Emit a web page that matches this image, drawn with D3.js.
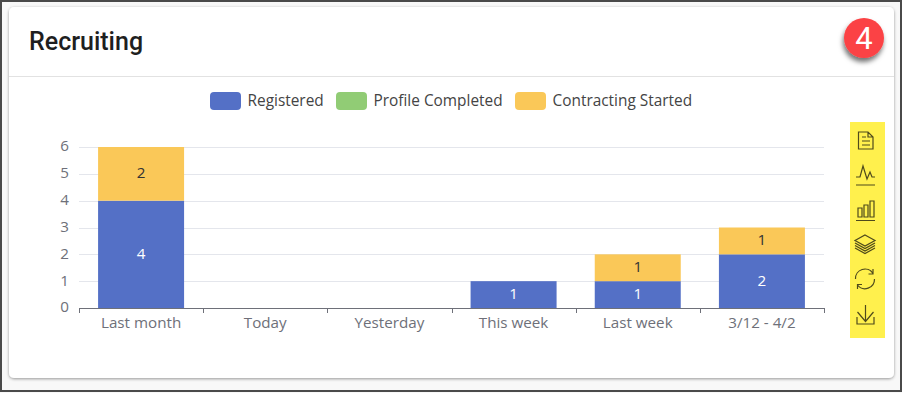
<!DOCTYPE html>
<html><head><meta charset="utf-8">
<style>html,body{margin:0;padding:0;background:#fff}svg{display:block}</style>
<script src="https://cdn.jsdelivr.net/npm/d3@7"></script></head><body>
<svg id="c" width="902" height="393"></svg>
<script>
const categories=["Last month","Today","Yesterday","This week","Last week","3/12 - 4/2"];
const registered=[4,0,0,1,1,2];
const profileCompleted=[0,0,0,0,0,0];
const contractingStarted=[2,0,0,0,1,1];
const seriesNames=["Registered","Profile Completed","Contracting Started"];
const seriesColors=["#5470c6","#91cc75","#fac858"];
const yTicks=[0,1,2,3,4,5,6];
const titleText="Recruiting";
const badgeText="4";
const font="'Open Sans','Noto Sans',sans-serif";

const svg=d3.select("#c");
const defs=svg.append("defs");
const s1=defs.append("filter").attr("id","cardShadow").attr("x","-5%").attr("y","-5%").attr("width","110%").attr("height","110%");
s1.append("feDropShadow").attr("dx",0).attr("dy",1).attr("stdDeviation",1.5).attr("flood-color","#000").attr("flood-opacity",.4);
const s2=defs.append("filter").attr("id","badgeShadow").attr("x","-40%").attr("y","-40%").attr("width","180%").attr("height","180%");
s2.append("feDropShadow").attr("dx",-1).attr("dy",4).attr("stdDeviation",2.5).attr("flood-color","#000").attr("flood-opacity",.55);

// window frame and card
svg.append("rect").attr("width",902).attr("height",393).attr("fill","#f8f8f8");
svg.append("rect").attr("x",1).attr("y",1).attr("width",900).attr("height",390).attr("fill","none").attr("stroke","#4a4a4a").attr("stroke-width",2);
svg.append("rect").attr("x",9).attr("y",7).attr("width",885).attr("height",371).attr("rx",5).attr("fill","#fff").attr("filter","url(#cardShadow)");
svg.append("line").attr("x1",9).attr("x2",894).attr("y1",76.5).attr("y2",76.5).attr("stroke","#e2e2e2");
svg.append("text").attr("x",29).attr("y",50).attr("font-family","Roboto,sans-serif").attr("font-weight",500).attr("font-size",25).attr("fill","#1f1f1f").text(titleText);

// badge
svg.append("circle").attr("cx",864).attr("cy",38).attr("r",20).attr("fill","#fb4345").attr("filter","url(#badgeShadow)");
svg.append("text").attr("x",864).attr("y",49).attr("text-anchor","middle").attr("font-family","Roboto,sans-serif").attr("font-size",31).attr("fill","#fff").text(badgeText);

// scales
const x=d3.scaleBand().domain(categories).range([79,824]).paddingInner(0).paddingOuter(0);
const y=d3.scaleLinear().domain([0,6]).range([308,147]);
const barW=86;

// grid
svg.append("g").selectAll("line").data(yTicks.filter(d=>d>0)).join("line")
 .attr("x1",79).attr("x2",824).attr("y1",d=>Math.round(y(d))+.5).attr("y2",d=>Math.round(y(d))+.5).attr("stroke","#e4e6ec");

// stacks
const rows=categories.map((c,i)=>({cat:c,Registered:registered[i],"Profile Completed":profileCompleted[i],"Contracting Started":contractingStarted[i]}));
const stacked=d3.stack().keys(seriesNames)(rows);
const layers=svg.append("g").selectAll("g").data(stacked).join("g").attr("fill",(d,i)=>seriesColors[i]);
layers.selectAll("rect").data(d=>d.filter(p=>p[1]>p[0])).join("rect")
 .attr("x",d=>x(d.data.cat)+x.bandwidth()/2-barW/2).attr("width",barW)
 .attr("y",d=>y(d[1])).attr("height",d=>y(d[0])-y(d[1]));
const labels=svg.append("g").attr("font-family",font).attr("font-size",15.2).attr("text-anchor","middle");
stacked.forEach((l,i)=>{
 labels.selectAll(null).data(l.filter(p=>p[1]>p[0])).join("text")
 .attr("x",d=>x(d.data.cat)+x.bandwidth()/2).attr("y",d=>(y(d[0])+y(d[1]))/2+4.5)
 .attr("fill",i===0?"#fff":"#333").text(d=>d[1]-d[0]);
});

// axes
const xAxis=svg.append("g").attr("transform","translate(0,308.5)").call(d3.axisBottom(x).tickSize(0).tickPadding(9));
xAxis.select(".domain").remove();
xAxis.selectAll("text").attr("font-family",font).attr("font-size",15.2).attr("fill","#6e7079");
svg.append("line").attr("x1",79).attr("x2",824).attr("y1",308.5).attr("y2",308.5).attr("stroke","#6e7079");
svg.append("g").selectAll("line").data(d3.range(categories.length+1)).join("line")
 .attr("x1",i=>Math.round(79+i*x.step())+.5).attr("x2",i=>Math.round(79+i*x.step())+.5).attr("y1",308).attr("y2",313).attr("stroke","#6e7079");
const yAxis=svg.append("g").attr("transform","translate(79,-1)").call(d3.axisLeft(y).tickValues(yTicks).tickSize(0).tickPadding(10).tickFormat(d3.format("d")));
yAxis.select(".domain").remove();
yAxis.selectAll("text").attr("font-family",font).attr("font-size",15.2).attr("fill","#6e7079");

// legend
const legendX=[210,336,515];
const lg=svg.append("g").selectAll("g").data(seriesNames).join("g").attr("transform",(d,i)=>`translate(${legendX[i]},92)`);
lg.append("rect").attr("width",31).attr("height",18).attr("rx",4).attr("fill",(d,i)=>seriesColors[i]);
lg.append("text").attr("x",37.5).attr("y",14).attr("font-family",font).attr("font-size",15.4).attr("fill","#444").text(d=>d);

// toolbox
svg.append("rect").attr("x",850).attr("y",122).attr("width",35).attr("height",216).attr("fill","#fff04d");
const icons=[
 "M858.5 132H868L873 137V149H858.5ZM868 132V137H873M862 137H866M862 141H870M862 145H870",
 "M856 185H875M856 177H860L863 166L867 179L870 172L872 177H875",
 "M856 220.5H875M858 217V208H862V217ZM864 217V205H868V217ZM870 217V201H874V217Z",
 "M865 235L875 240.5L865 246L855 240.5ZM855 243L865 248.5L875 243M855 245.5L865 251L875 245.5M855 248L865 253.5L875 248",
 "M855.5 279A9.5 9.5 0 0 1 873 273.5M873 269V274H868.5M874.5 279A9.5 9.5 0 0 1 857.5 285M857.5 289V284.5H862",
 "M865.5 305V321M857.5 312L865.5 321.5L873.5 312M857 317V324H874V317"
];
svg.append("g").selectAll("path").data(icons).join("path").attr("d",d=>d).attr("fill","none").attr("stroke","#4f4a1c").attr("stroke-width",1.2);
</script></body></html>
